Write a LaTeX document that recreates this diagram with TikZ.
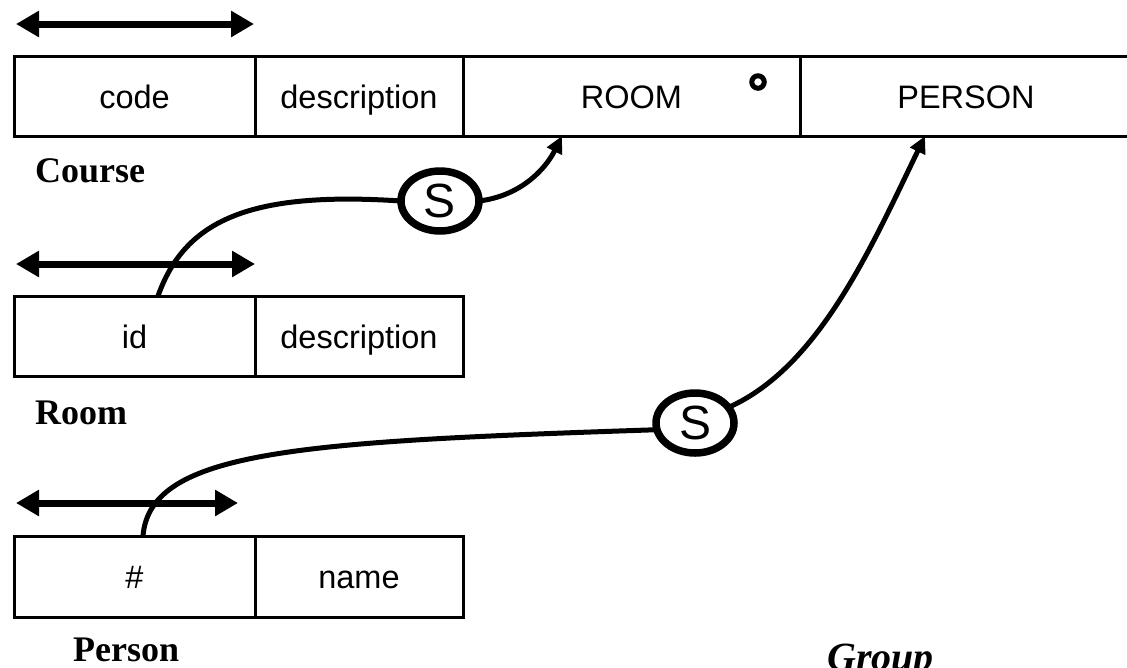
\documentclass[tikz,border=0pt]{standalone}
\usepackage{fontspec}
\setmainfont{Liberation Sans}
\newfontfamily\lblfont{Liberation Serif}
\usetikzlibrary{arrows.meta,shapes.geometric,calc}
\begin{document}
\begin{tikzpicture}[x=1pt,y=-1pt,
  cellbase/.style={minimum height=80pt,inner sep=0pt,outer sep=0pt,anchor=north west,text height=27pt,text depth=3pt,font=\fontsize{32.5}{33}\selectfont},
  cell/.style={cellbase,draw,line width=3pt},
  opencell/.style={cellbase},
  dbl/.style={line width=7pt,{Triangle[length=23pt,width=25pt]}-{Triangle[length=23pt,width=25pt]}},
  sel/.style={ellipse,draw,line width=7.5pt,minimum width=78pt,minimum height=60pt,inner sep=0pt,outer sep=0pt,font=\fontsize{48}{48}\selectfont},
  conn/.style={line width=5pt},
  aconn/.style={line width=5pt,-{Triangle[length=17pt,width=16pt]}},
  lbl/.style={anchor=base west,font=\lblfont\bfseries\fontsize{36}{36}\selectfont,inner sep=0pt},
  ilbl/.style={anchor=base west,font=\lblfont\bfseries\itshape\fontsize{40}{40}\selectfont,inner sep=0pt}
]
\useasboundingbox (0,0) rectangle (1127,667);
% Course
\node[cell,minimum width=241pt] (code) at (14,56) {code};
\node[cell,minimum width=208pt] (cdesc) at (255,56) {description};
\node[cell,minimum width=337pt] (ROOM) at (463,56) {ROOM};
\node[opencell,minimum width=332pt] (PERSON) at (800,56) {PERSON};
\draw[line width=3pt] (PERSON.north west) -- (PERSON.north east);
\draw[line width=3pt] (PERSON.south west) -- (PERSON.south east);
\node[circle,draw,line width=5pt,minimum size=12.5pt,inner sep=0pt] (mk) at (758,82) {};
% Room
\node[cell,minimum width=241pt] (id) at (14,296) {id};
\node[cell,minimum width=208pt] (rdesc) at (255,296) {description};
% Person
\node[cell,minimum width=241pt,minimum height=81pt] (hash) at (14,536) {\#};
\node[cell,minimum width=208pt,minimum height=81pt] (name) at (255,536) {name};
% double arrows
\coordinate (ca1) at (16,24); \coordinate (ca2) at (254,24);
\coordinate (ra1) at (16,264); \coordinate (ra2) at (255,264);
\coordinate (pa1) at (16,503); \coordinate (pa2) at (238,503);
\draw[dbl] (ca1) -- (ca2);
\draw[dbl] (ra1) -- (ra2);
\draw[dbl] (pa1) -- (pa2);
% labels
\node[lbl] (lcourse) at (35,182) {Course};
\node[lbl] (lroom) at (35,424) {Room};
\node[lbl] (lperson) at (73,661) {Person};
\node[ilbl] (lgroup) at (827,670) {Group};
% S nodes
\node[sel] (s1) at (440,201) {S};
\node[sel] (s2) at (695,423) {S};
% connectors
\draw[conn] ($(id.north west)+(144,0)$) .. controls +(27,-76) and +(-151,-10) .. (s1.west);
\draw[aconn] (s1.east) .. controls +(41,-5) and +(-17,34) .. ($(ROOM.south west)+(99,0)$);
\draw[conn] ($(hash.north west)+(129,0)$) .. controls +(7,-86) and +(-356,12) .. (s2.190);
\draw[aconn] (s2.25) .. controls +(90,-40) and +(-55,114) .. ($(PERSON.south west)+(125,0)$);
\end{tikzpicture}
\end{document}
